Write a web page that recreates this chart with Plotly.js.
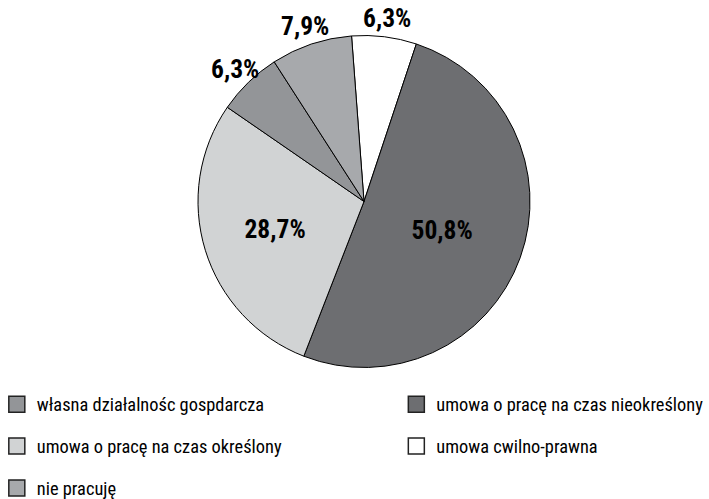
<!DOCTYPE html>
<html>
<head>
<meta charset="utf-8">
<script src="https://cdn.plot.ly/plotly-3.0.1.min.js"></script>
<style>html,body{margin:0;padding:0;background:#fff;}#chart{width:709px;height:499px;}</style>
</head>
<body>
<div id="chart"></div>
<script>
// Slices in clockwise order starting just left of 12 o'clock
const sliceLabels = ["umowa cwilno-prawna", "umowa o pracę na czas nieokreślony", "umowa o pracę na czas określony", "własna działalnośc gospdarcza", "nie pracuję"];
const sliceValues = [6.3, 50.8, 28.7, 6.3, 7.9];
const sliceText = ["6,3%", "50,8%", "28,7%", "6,3%", "7,9%"];
const sliceColors = ["#ffffff", "#6d6e71", "#d1d3d4", "#939598", "#a7a9ac"];
const labelOutside = [true, false, false, true, true];

// Legend layout (columns)
const legendLeft = ["własna działalnośc gospdarcza", "umowa o pracę na czas określony", "nie pracuję"];
const legendRight = ["umowa o pracę na czas nieokreślony", "umowa cwilno-prawna"];

const FONT = "'Roboto Condensed', 'Liberation Sans Narrow', sans-serif";
const W = 709, H = 499;
const ROTATION = -4.3;          // degrees, clockwise from 12 o'clock
const CX = 364, CY = 201.5, R = 166;  // pie geometry in pixels
const LABEL_GAP = 19;           // outside label distance beyond the rim

const colorOf = {};
sliceLabels.forEach((l, i) => colorOf[l] = sliceColors[i]);

const pieDomain = {
  x: [(CX - R) / W, (CX + R) / W],
  y: [(H - (CY + R)) / H, (H - (CY - R)) / H]
};

const traces = [{
  type: "pie",
  labels: sliceLabels,
  values: sliceValues,
  text: sliceText,
  textinfo: "text",
  textposition: labelOutside.map(o => o ? "none" : "inside"),
  insidetextorientation: "horizontal",
  sort: false,
  direction: "clockwise",
  rotation: ROTATION,
  showlegend: false,
  hoverinfo: "label+text",
  marker: {colors: sliceColors, line: {color: "#000000", width: 1}},
  textfont: {family: FONT, size: 25.5, color: "#000000", weight: "bold"},
  domain: pieDomain
}];

// Outside labels placed at each slice's mid-angle, derived from the values
const total = sliceValues.reduce((a, b) => a + b, 0);
const annotations = [];
let cum = 0;
sliceValues.forEach((v, i) => {
  const mid = ROTATION + (cum + v / 2) / total * 360;
  cum += v;
  if (!labelOutside[i]) return;
  const t = mid * Math.PI / 180;
  const d = R + LABEL_GAP;
  const px = CX + d * Math.sin(t);
  const py = CY - d * Math.cos(t);
  annotations.push({
    xref: "paper", yref: "paper",
    x: px / W, y: (H - py) / H,
    xanchor: "center", yanchor: "middle",
    text: sliceText[i], showarrow: false,
    font: {family: FONT, size: 25.5, color: "#000000", weight: "bold"}
  });
});

function addLegend(names, legendId) {
  names.forEach((n, i) => {
    traces.push({
      type: "scatter", mode: "markers",
      x: [null], y: [null],
      name: n,
      legend: legendId,
      legendgroup: legendId + i,
      marker: {symbol: "square", size: 16, color: colorOf[n], line: {color: "#222222", width: 1.5}},
      hoverinfo: "skip"
    });
  });
}
addLegend(legendLeft, "legend");
addLegend(legendRight, "legend2");

const legendCommon = {
  orientation: "v",
  traceorder: "grouped",
  tracegroupgap: 15,
  bgcolor: "rgba(0,0,0,0)",
  borderwidth: 0,
  font: {family: FONT, size: 18.4, color: "#000000"},
  xanchor: "left", yanchor: "top",
  itemclick: false, itemdoubleclick: false
};

const layout = {
  width: W, height: H,
  margin: {l: 0, r: 0, t: 0, b: 0, autoexpand: false},
  paper_bgcolor: "#ffffff",
  plot_bgcolor: "#ffffff",
  xaxis: {visible: false},
  yaxis: {visible: false},
  showlegend: true,
  annotations: annotations,
  legend: Object.assign({}, legendCommon, {x: -0.0045, y: 0.227}),
  legend2: Object.assign({}, legendCommon, {x: 0.559, y: 0.227})
};

Plotly.newPlot("chart", traces, layout, {displayModeBar: false, staticPlot: true});
</script>
</body>
</html>
